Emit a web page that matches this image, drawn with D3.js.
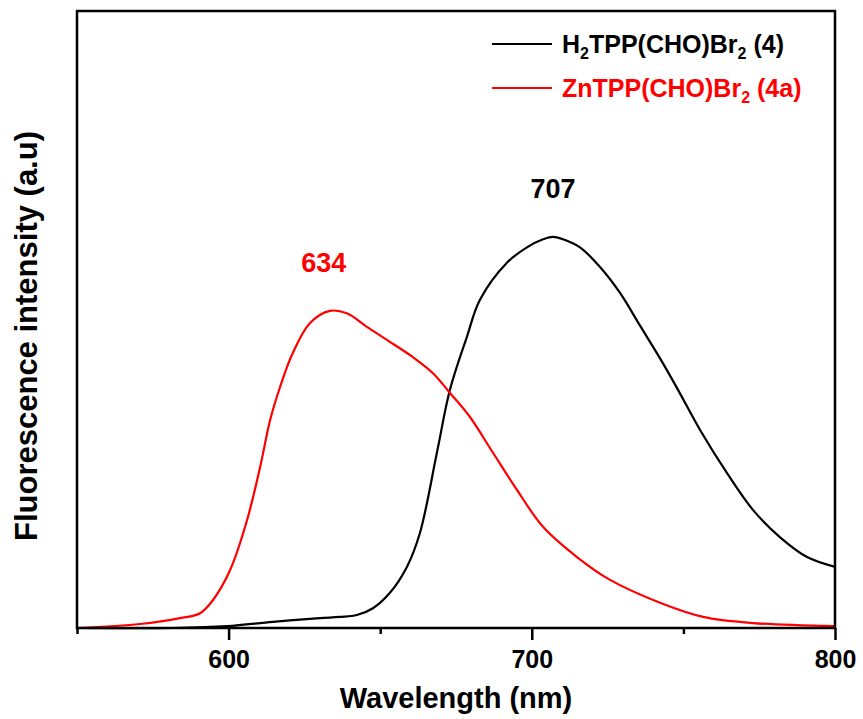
<!DOCTYPE html>
<html>
<head>
<meta charset="utf-8">
<script src="https://cdn.jsdelivr.net/npm/d3@7"></script>
<style>
  body { margin: 0; background: #fff; }
  svg text { font-family: Arial, "Liberation Sans", sans-serif; font-weight: bold; }
</style>
</head>
<body>
<div id="chart"></div>
<script>
// wavelength (nm) / intensity (a.u.)
const redWl  = [550, 570.8, 584, 590.6, 594.8, 600.5, 606.1, 610.4, 613.7, 617, 621.2, 626.8, 633.4, 639, 645.6, 652.2, 660.8, 667.4, 673, 679.6, 687.2, 695.1, 703.7, 714.9, 725.8, 742.3, 756.5, 773, 800];
const redInt = [0, 6.5, 16, 24, 45, 94, 175, 261, 337, 391, 446, 494, 514, 510, 488, 467, 439, 413, 381, 342, 284, 224, 164, 115, 78, 41, 18, 8, 3];

const blackWl  = [550, 581.7, 599.5, 614.6, 630.1, 636.7, 642.3, 647.6, 653.2, 658.8, 663.1, 668.7, 673, 678.6, 682.9, 691.8, 698.4, 703.7, 707, 710.3, 715.9, 722.5, 729.1, 735.7, 742.3, 748, 755.5, 764.4, 773, 781.9, 790.8, 800];
const blackInt = [0, 0, 3, 10, 16, 18, 21, 32, 57, 99, 154, 284, 386, 472, 532, 592, 617, 630, 634, 630, 617, 585, 543, 490, 437, 388, 321, 251, 191, 147, 115, 99];

const majorTicks = [600, 700, 800];
const minorTicks = [550, 650, 750];

const seriesNames = ["H|2|TPP(CHO)Br|2| (4)", "ZnTPP(CHO)Br|2| (4a)"];
const seriesColors = ["#000000", "#ff0000"];
const peakLabels = [{wl: 707, val: 634, text: "707", color: "#000"}, {wl: 634, val: 514, text: "634", color: "#ff0000"}];

const width = 863, height = 719;
const margin = {left: 77, right: 28, top: 11, bottom: 91};

const svg = d3.select("#chart").append("svg")
    .attr("width", width)
    .attr("height", height);

const x = d3.scaleLinear().domain([550, 800]).range([margin.left, width - margin.right]);
const y = d3.scaleLinear().domain([0, 1000]).range([height - margin.bottom, margin.top]);

const line = d3.line()
    .x(d => x(d[0]))
    .y(d => y(d[1]))
    .curve(d3.curveCatmullRom.alpha(0.5));

const blackData = blackWl.map((w, i) => [w, blackInt[i]]);
const redData = redWl.map((w, i) => [w, redInt[i]]);

svg.append("path")
    .datum(blackData)
    .attr("d", line)
    .attr("fill", "none")
    .attr("stroke", seriesColors[0])
    .attr("stroke-width", 2.2);

svg.append("path")
    .datum(redData)
    .attr("d", line)
    .attr("fill", "none")
    .attr("stroke", seriesColors[1])
    .attr("stroke-width", 2.2);

// frame
svg.append("rect")
    .attr("x", x(550))
    .attr("y", y(1000))
    .attr("width", x(800) - x(550))
    .attr("height", y(0) - y(1000))
    .attr("fill", "none")
    .attr("stroke", "#000")
    .attr("stroke-width", 2.5);

// x axis, major + minor ticks
const xAxis = svg.append("g")
    .attr("transform", `translate(0,${y(0)})`)
    .call(d3.axisBottom(x).tickValues(majorTicks).tickSize(12).tickPadding(10).tickFormat(d3.format("d")));
xAxis.select(".domain").remove();
xAxis.selectAll(".tick line").attr("stroke-width", 2.5);
xAxis.selectAll(".tick text")
    .attr("font-size", 25)
    .attr("fill", "#000")
    .attr("font-family", "Arial, 'Liberation Sans', sans-serif");

const xMinor = svg.append("g")
    .attr("transform", `translate(0,${y(0)})`)
    .call(d3.axisBottom(x).tickValues(minorTicks).tickSize(6).tickFormat(""));
xMinor.select(".domain").remove();
xMinor.selectAll(".tick line").attr("stroke-width", 2.5);

// axis titles
svg.append("text")
    .attr("x", (x(550) + x(800)) / 2)
    .attr("y", 708)
    .attr("text-anchor", "middle")
    .attr("font-size", 29)
    .text("Wavelength (nm)");

svg.append("text")
    .attr("transform", `translate(37,336) rotate(-90)`)
    .attr("text-anchor", "middle")
    .attr("font-size", 31)
    .text("Fluorescence intensity (a.u)");

// peak labels (634 sits a little left of its peak in the original)
svg.selectAll(".peak")
    .data(peakLabels)
    .join("text")
    .attr("class", "peak")
    .attr("x", d => x(d.wl) + (d.text === "634" ? -8 : 0))
    .attr("y", d => y(d.val) - 39)
    .attr("text-anchor", "middle")
    .attr("font-size", 27)
    .attr("fill", d => d.color)
    .text(d => d.text);

// legend
const legend = svg.append("g");
seriesNames.forEach((name, i) => {
    const yy = 44 + i * 44;
    legend.append("line")
        .attr("x1", 492).attr("x2", 552)
        .attr("y1", yy).attr("y2", yy)
        .attr("stroke", seriesColors[i])
        .attr("stroke-width", 2.2);
    const t = legend.append("text")
        .attr("x", 562)
        .attr("y", yy + 9)
        .attr("font-size", 25)
        .attr("fill", seriesColors[i]);
    // parts split by "|" alternate normal / subscript
    name.split("|").forEach((part, j) => {
        const sub = j % 2 === 1;
        t.append("tspan")
            .attr("font-size", sub ? 16 : 25)
            .attr("dy", sub ? 6 : (j > 0 ? -6 : 0))
            .text(part);
    });
});
</script>
</body>
</html>
